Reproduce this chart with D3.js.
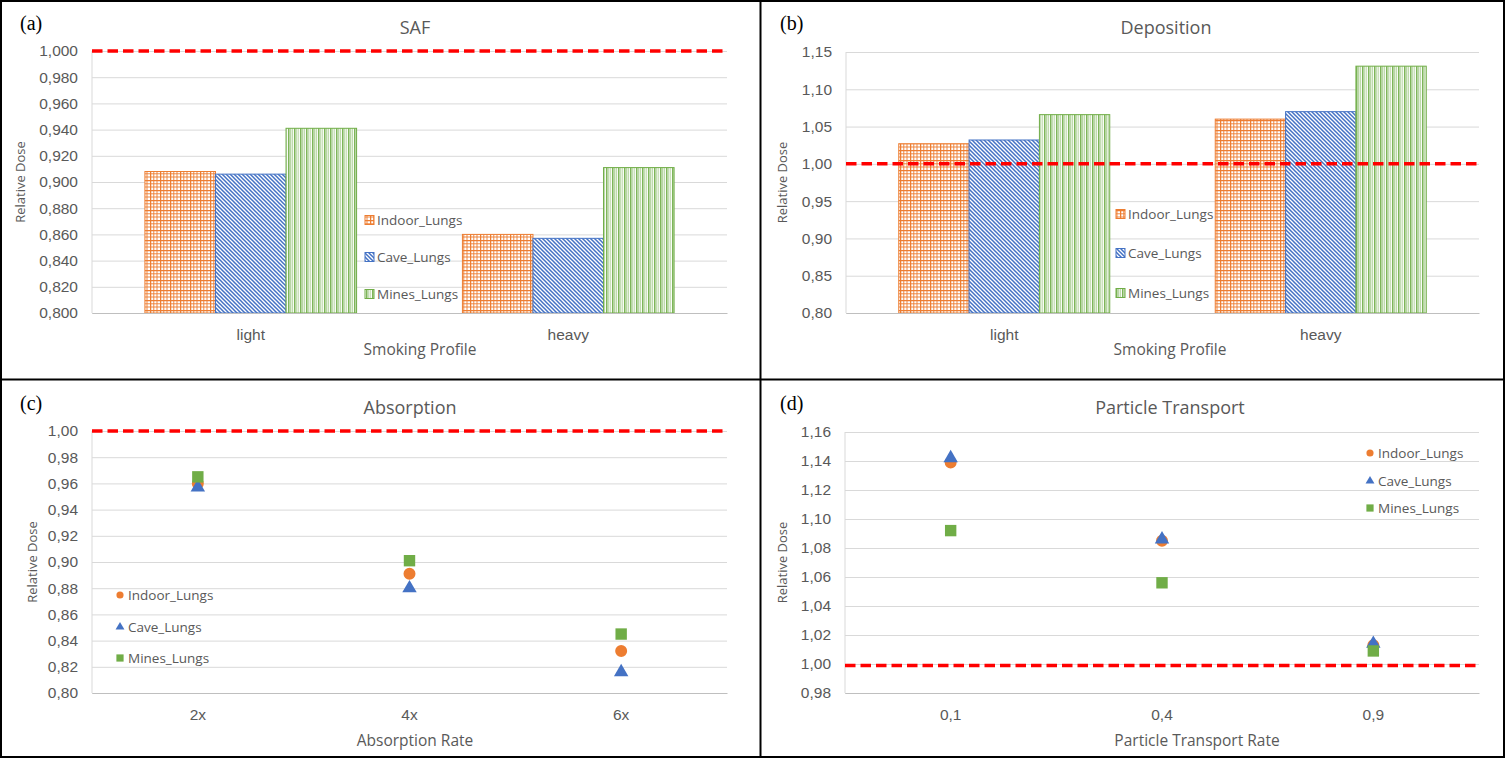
<!DOCTYPE html>
<html>
<head>
<meta charset="utf-8">
<script src="https://cdn.jsdelivr.net/npm/d3@7"></script>
<style>
  body { margin: 0; background: #fff; }
  svg { display: block; font-family: "Open Sans", sans-serif; }
</style>
</head>
<body>
<svg id="chart" width="1505" height="758"></svg>
<script>
const series = ["Indoor_Lungs", "Cave_Lungs", "Mines_Lungs"];
const colors = ["#ED7D31", "#4472C4", "#70AD47"];

const profiles = ["light", "heavy"];
const safIndoor = [0.908, 0.860];
const safCave = [0.906, 0.857];
const safMines = [0.941, 0.911];

const depIndoor = [1.027, 1.060];
const depCave = [1.032, 1.070];
const depMines = [1.066, 1.131];

const absRates = ["2x", "4x", "6x"];
const absIndoor = [0.960, 0.891, 0.832];
const absCave = [0.957, 0.880, 0.816];
const absMines = [0.965, 0.901, 0.845];

const transRates = ["0,1", "0,4", "0,9"];
const trIndoor = [1.139, 1.085, 1.013];
const trCave = [1.142, 1.086, 1.014];
const trMines = [1.092, 1.056, 1.009];

const grey = "#595959";
const fmt = d3.formatLocale({decimal: ",", thousands: ".", grouping: [3], currency: ["", ""]});

const svg = d3.select("#chart");
const defs = svg.append("defs");

// hatch patterns roughly like the excel ones
const pOr = defs.append("pattern").attr("id", "pat0").attr("patternUnits", "userSpaceOnUse")
  .attr("width", 10).attr("height", 10);
pOr.append("rect").attr("width", 10).attr("height", 10).attr("fill", "#fff");
[0.6, 3.8, 7].forEach((p, i) => {
  const w = i == 0 ? 1.3 : 0.9;
  pOr.append("rect").attr("x", p - w / 2).attr("y", 0).attr("width", w).attr("height", 10).attr("fill", colors[0]);
  pOr.append("rect").attr("y", p - w / 2).attr("x", 0).attr("height", w).attr("width", 10).attr("fill", colors[0]);
});

const pBl = defs.append("pattern").attr("id", "pat1").attr("patternUnits", "userSpaceOnUse")
  .attr("width", 4).attr("height", 4);
pBl.append("rect").attr("width", 4).attr("height", 4).attr("fill", "#fff");
pBl.append("path").attr("d", "M-1,-1L5,5M-1,3L1,5M3,-1L5,1")
  .attr("stroke", colors[1]).attr("stroke-width", 1.5);

const pGr = defs.append("pattern").attr("id", "pat2").attr("patternUnits", "userSpaceOnUse")
  .attr("width", 12).attr("height", 12);
pGr.append("rect").attr("width", 12).attr("height", 12).attr("fill", "#fff");
[[0.8, 1.4, 1], [2.8, 1, 0.7], [4.6, 1, 0.5], [6.8, 1.4, 1], [8.8, 1, 0.6], [10.6, 1, 0.4]].forEach(l => {
  pGr.append("rect").attr("x", l[0] - l[1] / 2).attr("y", 0).attr("width", l[1]).attr("height", 12)
    .attr("fill", colors[2]).attr("opacity", l[2]);
});

function frame(p) {
  const g = svg.append("g");
  g.append("text").attr("x", p.x + 20).attr("y", p.y + 30)
    .style("font-family", "'Liberation Serif', serif").style("font-size", "20px").attr("fill", "#000")
    .text(p.tag);
  g.append("text").attr("x", p.x + p.titleX).attr("y", p.y + 34).attr("text-anchor", "middle")
    .style("font-size", "18px").attr("fill", grey).text(p.title);
  return g;
}

function yAxis(g, y, left, right, ticks, f) {
  const ax = g.append("g").attr("transform", `translate(${left},0)`)
    .call(d3.axisLeft(y).tickValues(ticks).tickSize(-(right - left)).tickPadding(14).tickFormat(fmt.format(f)));
  ax.select(".domain").remove();
  ax.selectAll("line").attr("stroke", "#D9D9D9");
  ax.selectAll("text").attr("fill", grey).style("font-size", "15.5px");
  g.append("line").attr("x1", left).attr("x2", left).attr("y1", y.range()[1]).attr("y2", y.range()[0])
    .attr("stroke", "#D9D9D9");
}

function xAxis(g, x, base) {
  const ax = g.append("g").attr("transform", `translate(0,${base})`)
    .call(d3.axisBottom(x).tickSize(0).tickPadding(16));
  ax.select(".domain").attr("stroke", "#BFBFBF");
  ax.selectAll("text").attr("fill", grey).style("font-size", "15.5px");
}

function labels(g, p, ytitleX, xtitleX, xtitleY) {
  g.append("text").attr("transform", `translate(${ytitleX},${(p.top + p.bottom) / 2}) rotate(-90)`)
    .attr("text-anchor", "middle").attr("dy", "0.35em").style("font-size", "13px").attr("fill", grey)
    .text("Relative Dose");
  g.append("text").attr("x", xtitleX).attr("y", xtitleY).attr("text-anchor", "middle")
    .attr("dy", "0.35em").style("font-size", "15.5px").attr("fill", grey).text(p.xtitle);
}

function redLine(g, y, v, left, right) {
  g.append("line").attr("x1", left).attr("x2", right).attr("y1", y(v)).attr("y2", y(v))
    .attr("stroke", "#FF0000").attr("stroke-width", 3.5).attr("stroke-dasharray", "10.5,5");
}

function barPanel(p, vals) {
  const g = frame(p);
  const y = d3.scaleLinear().domain(p.dom).range([p.bottom, p.top]);
  const x = d3.scaleBand().domain(profiles).range([p.left, p.right]);
  const bw = x.bandwidth();
  const x1 = d3.scaleBand().domain(series).range([bw * 0.75 / 4.5, bw - bw * 0.75 / 4.5]);
  yAxis(g, y, p.left, p.right, d3.range(p.dom[0], p.dom[1] + 1e-9, p.step), p.f);
  series.forEach((s, i) => {
    g.append("g").selectAll("rect").data(vals[i]).join("rect")
      .attr("x", (d, j) => x(profiles[j]) + x1(s))
      .attr("y", d => y(d))
      .attr("width", x1.bandwidth())
      .attr("height", d => y(p.dom[0]) - y(d))
      .attr("fill", `url(#pat${i})`)
      .attr("stroke", colors[i]).attr("stroke-width", 1);
  });
  redLine(g, y, 1, p.left, p.right);
  xAxis(g, x, p.bottom);
  labels(g, p, p.x + p.ytx, p.x + p.xtx, p.y + 350);
  series.forEach((s, i) => {
    const ly = p.legY[i];
    g.append("rect").attr("x", p.legX).attr("y", ly - 4.5).attr("width", 9).attr("height", 9)
      .attr("fill", `url(#pat${i})`).attr("stroke", colors[i]);
    g.append("text").attr("x", p.legX + 12).attr("y", ly).attr("dy", "0.35em")
      .style("font-size", "13.5px").attr("fill", grey).text(s);
  });
}

const shapes = [d3.symbolCircle, d3.symbolTriangle, d3.symbolSquare];
const sizes = [113, 90, 130];
const legSizes = [40, 34, 52];

function scatterPanel(p, cats, vals) {
  const g = frame(p);
  const y = d3.scaleLinear().domain(p.dom).range([p.bottom, p.top]);
  const x = d3.scaleBand().domain(cats).range([p.left, p.right]);
  yAxis(g, y, p.left, p.right, d3.range(p.dom[0], p.dom[1] + 1e-9, p.step), p.f);
  redLine(g, y, p.ref, p.left, p.right);
  xAxis(g, x, p.bottom);
  series.forEach((s, i) => {
    g.append("g").selectAll("path").data(vals[i]).join("path")
      .attr("transform", (d, j) => `translate(${x(cats[j]) + x.bandwidth() / 2},${y(d)})`)
      .attr("d", d3.symbol().type(shapes[i]).size(sizes[i]))
      .attr("fill", colors[i]);
  });
  labels(g, p, p.x + p.ytx, p.x + p.xtx, p.y + 361);
  series.forEach((s, i) => {
    const ly = p.legY[i];
    g.append("path").attr("transform", `translate(${p.legX},${ly})`)
      .attr("d", d3.symbol().type(shapes[i]).size(legSizes[i])).attr("fill", colors[i]);
    g.append("text").attr("x", p.legX + 8).attr("y", ly).attr("dy", "0.35em")
      .style("font-size", "13.5px").attr("fill", grey).text(s);
  });
}

barPanel({x: 0, y: 0, tag: "(a)", title: "SAF", titleX: 415, xtitle: "Smoking Profile",
  left: 92, right: 727, top: 51, bottom: 313, dom: [0.8, 1.0], step: 0.02, f: ".3f",
  ytx: 20, xtx: 420, legX: 365, legY: [220, 257, 294]},
  [safIndoor, safCave, safMines]);

barPanel({x: 760, y: 0, tag: "(b)", title: "Deposition", titleX: 406, xtitle: "Smoking Profile",
  left: 846, right: 1479, top: 52, bottom: 313, dom: [0.8, 1.15], step: 0.05, f: ".2f",
  ytx: 22, xtx: 410, legX: 1116, legY: [214, 253, 293]},
  [depIndoor, depCave, depMines]);

scatterPanel({x: 0, y: 380, tag: "(c)", title: "Absorption", titleX: 410, xtitle: "Absorption Rate",
  left: 92, right: 727, top: 431, bottom: 693, dom: [0.8, 1.0], step: 0.02, f: ".2f", ref: 1.0,
  ytx: 32, xtx: 415, legX: 120, legY: [595, 627, 658]},
  absRates, [absIndoor, absCave, absMines]);

scatterPanel({x: 760, y: 380, tag: "(d)", title: "Particle Transport", titleX: 410, xtitle: "Particle Transport Rate",
  left: 845, right: 1479, top: 432, bottom: 693, dom: [0.98, 1.16], step: 0.02, f: ".2f", ref: 0.999,
  ytx: 22, xtx: 437, legX: 1370, legY: [453, 481, 508]},
  transRates, [trIndoor, trCave, trMines]);

// panel borders
svg.append("rect").attr("x", 1).attr("y", 1).attr("width", 1503).attr("height", 756)
  .attr("fill", "none").attr("stroke", "#000").attr("stroke-width", 2);
svg.append("line").attr("x1", 760.5).attr("x2", 760.5).attr("y1", 0).attr("y2", 758)
  .attr("stroke", "#000").attr("stroke-width", 2);
svg.append("line").attr("x1", 0).attr("x2", 1505).attr("y1", 379.5).attr("y2", 379.5)
  .attr("stroke", "#000").attr("stroke-width", 2);
</script>
</body>
</html>
